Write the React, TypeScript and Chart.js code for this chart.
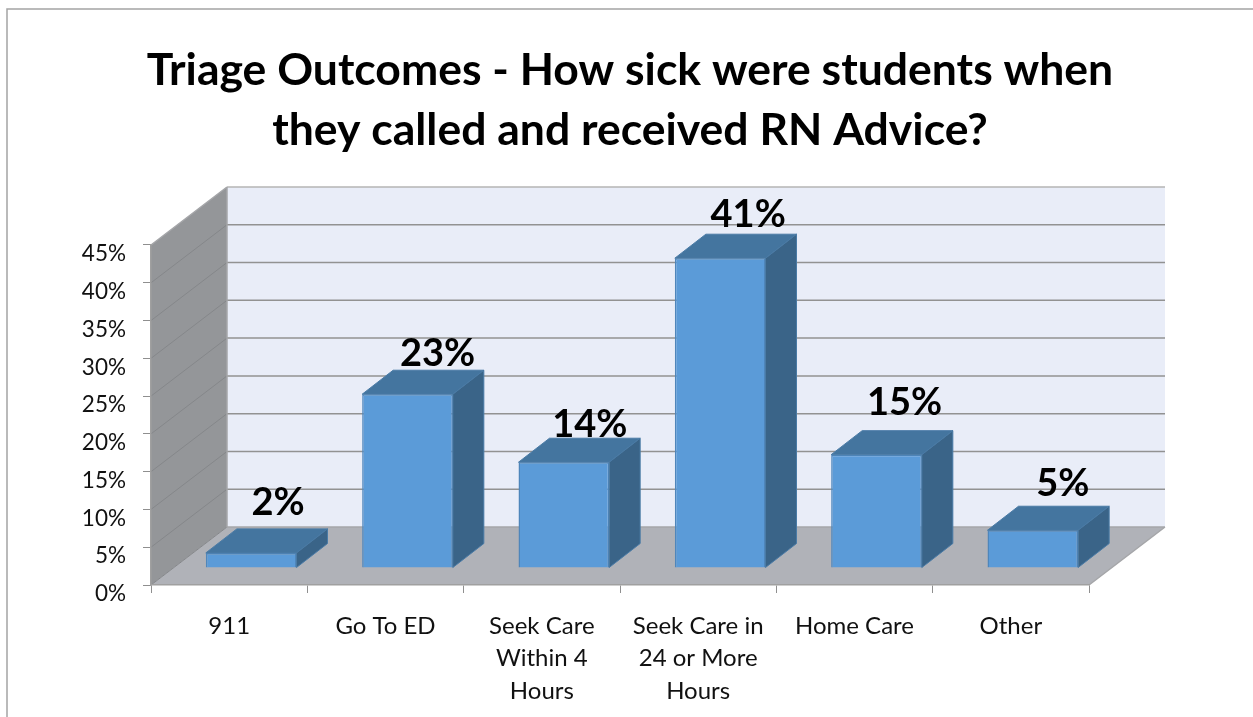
import React, { useEffect, useRef } from "react";
import { Chart, registerables } from "chart.js";

Chart.register(...registerables);

const titleLines = ["Triage Outcomes - How sick were students when", "they called and received RN Advice?"];
const categories: (string | string[])[] = [
  "911",
  "Go To ED",
  ["Seek Care", "Within 4", "Hours"],
  ["Seek Care in", "24 or More", "Hours"],
  "Home Care",
  "Other",
];
const shares = [2, 23, 14, 41, 15, 5];
const labelNudgeX = [27, 30, 26, 28, 28, 30];
const labelNudgeY = [-50, -40, -37, -43, -52, -46];

const FONT = "Lato, Carlito, Calibri, sans-serif";
const WALL_DX = 76;
const WALL_DY = -58;
const BAR_DX = 22;
const BAR_DY = -17;
const CAP_DX = 31;
const CAP_DY = -24;

const scene3d = {
  id: "scene3d",
  afterLayout(chart: any) {
    // the title centres on the whole frame, not on the plot's narrower box
    chart.titleBlock.left = 0;
    chart.titleBlock.right = 1260;
  },
  beforeDraw(chart: any) {
    const { ctx, chartArea: a, scales } = chart;
    const y = scales.y;
    const y0 = y.getPixelForValue(0);
    const yTop = y.getPixelForValue(45);
    ctx.save();
    ctx.fillStyle = "#fff";
    ctx.fillRect(0, 0, chart.width, chart.height);
    // frame
    ctx.strokeStyle = "#a4a4a4";
    ctx.lineWidth = 1.5;
    ctx.beginPath();
    ctx.moveTo(7, 717);
    ctx.lineTo(7, 9);
    ctx.lineTo(1253, 9);
    ctx.stroke();
    // back wall
    ctx.fillStyle = "#e9edf8";
    ctx.fillRect(a.left + WALL_DX, yTop + WALL_DY, a.right - a.left, y0 - yTop);
    // side wall
    ctx.fillStyle = "#949699";
    ctx.beginPath();
    ctx.moveTo(a.left, y0);
    ctx.lineTo(a.left, yTop);
    ctx.lineTo(a.left + WALL_DX, yTop + WALL_DY);
    ctx.lineTo(a.left + WALL_DX, y0 + WALL_DY);
    ctx.closePath();
    ctx.fill();
    // floor
    ctx.fillStyle = "#b0b2b8";
    ctx.beginPath();
    ctx.moveTo(a.left, y0);
    ctx.lineTo(a.left + WALL_DX, y0 + WALL_DY);
    ctx.lineTo(a.right + WALL_DX, y0 + WALL_DY);
    ctx.lineTo(a.right, y0);
    ctx.closePath();
    ctx.fill();
    // grid lines
    for (const t of y.ticks) {
      const py = y.getPixelForValue(t.value);
      ctx.lineWidth = 1.5;
      if (t.value > 0) {
        ctx.strokeStyle = t.value === 45 ? "#b4b4b4" : "#929292";
        ctx.beginPath();
        ctx.moveTo(a.left + WALL_DX, py + WALL_DY);
        ctx.lineTo(a.right + WALL_DX, py + WALL_DY);
        ctx.stroke();
      }
      ctx.strokeStyle = "#85878a";
      ctx.lineWidth = 1;
      if (t.value < 45) {
        ctx.beginPath();
        ctx.moveTo(a.left, py);
        ctx.lineTo(a.left + WALL_DX, py + WALL_DY);
        ctx.stroke();
      }
    }
    // edges
    ctx.strokeStyle = "#a5a6a9";
    ctx.lineWidth = 1.5;
    ctx.beginPath();
    ctx.moveTo(a.left, yTop);
    ctx.lineTo(a.left + WALL_DX, yTop + WALL_DY);
    ctx.moveTo(a.left + WALL_DX, yTop + WALL_DY);
    ctx.lineTo(a.left + WALL_DX, y0 + WALL_DY);
    ctx.lineTo(a.right + WALL_DX, y0 + WALL_DY);
    ctx.moveTo(a.right + WALL_DX, y0 + WALL_DY);
    ctx.lineTo(a.right, y0);
    ctx.stroke();
    ctx.restore();
  },
  beforeDatasetsDraw(chart: any) {
    chart.ctx.save();
    chart.ctx.translate(BAR_DX, BAR_DY);
  },
  afterDatasetsDraw(chart: any) {
    const { ctx } = chart;
    ctx.restore();
    const meta = chart.getDatasetMeta(0);
    meta.data.forEach((bar: any, i: number) => {
      const l = bar.x - bar.width / 2 + BAR_DX;
      const r = bar.x + bar.width / 2 + BAR_DX;
      const t = bar.y + BAR_DY;
      const b = bar.base + BAR_DY;
      ctx.save();
      ctx.lineWidth = 1;
      ctx.strokeStyle = "#4a7ba6";
      ctx.lineJoin = "round";
      // top face
      ctx.fillStyle = "#44759f";
      ctx.beginPath();
      ctx.moveTo(l, t);
      ctx.lineTo(l + CAP_DX, t + CAP_DY);
      ctx.lineTo(r + CAP_DX, t + CAP_DY);
      ctx.lineTo(r, t);
      ctx.closePath();
      ctx.fill();
      ctx.stroke();
      // side face
      ctx.fillStyle = "#3a6488";
      ctx.beginPath();
      ctx.moveTo(r, t);
      ctx.lineTo(r + CAP_DX, t + CAP_DY);
      ctx.lineTo(r + CAP_DX, b + CAP_DY);
      ctx.lineTo(r, b);
      ctx.closePath();
      ctx.fill();
      ctx.stroke();
      // value label
      ctx.fillStyle = "#000";
      ctx.font = `bold 38px ${FONT}`;
      ctx.textAlign = "center";
      ctx.textBaseline = "middle";
      ctx.fillText(`${shares[i]}%`, bar.x + BAR_DX + labelNudgeX[i], t + labelNudgeY[i]);
      ctx.restore();
    });
  },
};

export default function App() {
  const ref = useRef<HTMLCanvasElement>(null);
  useEffect(() => {
    document.body.style.margin = "0";
    const chart = new Chart(ref.current!, {
      type: "bar",
      plugins: [scene3d],
      data: {
        labels: categories as any,
        datasets: [
          {
            label: "Share of calls",
            data: shares,
            backgroundColor: "#5b9bd8",
            borderColor: "#4f86bb",
            borderWidth: 1.5,
            barPercentage: 0.58,
            categoryPercentage: 1,
            clip: false as any,
          },
        ],
      },
      options: {
        responsive: false,
        animation: false,
        devicePixelRatio: 1,
        layout: { padding: { top: 0, left: 0, bottom: 0, right: 164 } },
        plugins: {
          legend: { display: false },
          tooltip: { enabled: false },
          title: {
            display: true,
            text: titleLines,
            color: "#000",
            font: { family: FONT, size: 44.5, weight: "bold", lineHeight: 1.348 },
            padding: { top: 41, bottom: 84 },
          },
        },
        scales: {
          x: {
            afterFit: (s: any) => {
              s.height = 132;
              s.paddingLeft = s.paddingRight = 0;
            },
            border: { color: "#a0a0a0", width: 1.5 },
            grid: { drawOnChartArea: false, drawTicks: true, tickLength: 8, tickColor: "#8f8f8f", offset: true },
            ticks: {
              color: "#111",
              autoSkip: false,
              maxRotation: 0,
              minRotation: 0,
              padding: 17,
              font: { family: FONT, size: 24, lineHeight: 1.354 },
            },
          },
          y: {
            min: 0,
            max: 45,
            afterFit: (s: any) => {
              s.width = 151;
              s.paddingTop = s.paddingBottom = 0;
            },
            border: { color: "#a0a0a0", width: 1.5 },
            grid: { drawOnChartArea: false, drawTicks: true, tickLength: 8, tickColor: "#8f8f8f" },
            ticks: {
              stepSize: 5,
              color: "#111",
              padding: 17,
              labelOffset: 9,
              font: { family: FONT, size: 22.5 },
              callback: (v: any) => `${v}%`,
            },
          },
        },
      } as any,
    });
    return () => chart.destroy();
  }, []);
  return (
    <div style={{ position: "fixed", left: 0, top: 0, width: 1253, height: 717 }}>
      <canvas ref={ref} width={1253} height={717} style={{ display: "block" }} />
    </div>
  );
}
